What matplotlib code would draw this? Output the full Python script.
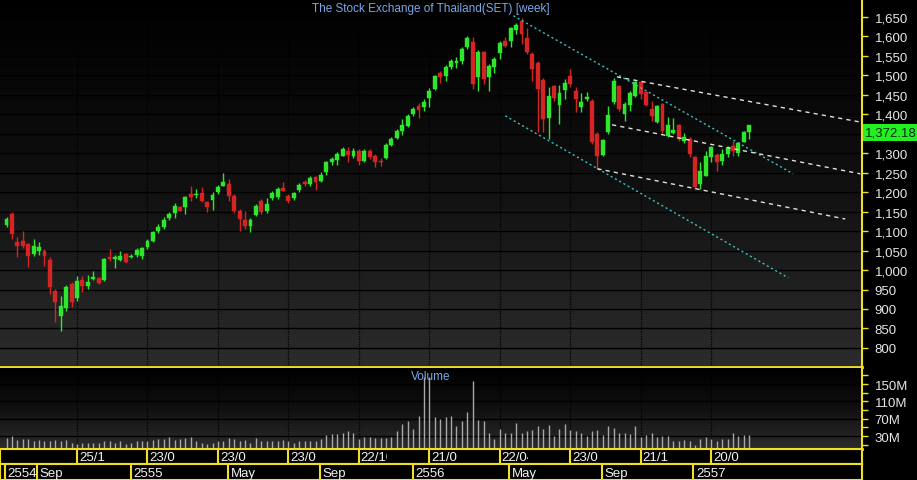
import matplotlib
matplotlib.use("Agg")
import matplotlib.pyplot as plt
import matplotlib.transforms as mtransforms
from matplotlib.colors import LinearSegmentedColormap
from matplotlib.patches import Rectangle
import numpy as np

plt.rcParams['font.family'] = ['Liberation Sans', 'DejaVu Sans']

# ------- weekly SET index data -------
opens = [1116, 1144, 1072, 1075, 1067, 1041, 1049, 1049, 1026, 946,
         882, 903, 964, 929, 975, 959, 977, 980, 975, 1034,
         1029, 1026, 1041, 1034, 1039, 1036, 1059, 1075, 1100, 1111,
         1134, 1147, 1162, 1162, 1195, 1193, 1198, 1175, 1180, 1201,
         1216, 1221, 1190, 1152, 1129, 1113, 1142, 1177, 1152, 1185,
         1188, 1211, 1190, 1185, 1206, 1226, 1221, 1239, 1229, 1252,
         1278, 1283, 1293, 1306, 1293, 1306, 1280, 1306, 1293, 1280,
         1288, 1321, 1339, 1357, 1370, 1401, 1421, 1419, 1442, 1465,
         1506, 1498, 1522, 1532, 1537, 1573, 1586, 1496, 1560, 1496,
         1522, 1558, 1588, 1588, 1617, 1640, 1596, 1555, 1532, 1488,
         1391, 1473, 1424, 1463, 1498, 1460, 1419, 1439, 1434, 1350,
         1296, 1355, 1432, 1473, 1401, 1424, 1447, 1483, 1457, 1414,
         1380, 1427, 1344, 1352, 1373, 1332, 1337, 1290, 1221, 1242,
         1290, 1296, 1280, 1298, 1319, 1301, 1329, 1355]
highs = [1137, 1149, 1085, 1100, 1070, 1080, 1072, 1054, 1034, 951,
         934, 962, 969, 985, 985, 987, 998, 982, 1031, 1054,
         1039, 1049, 1044, 1041, 1057, 1059, 1080, 1100, 1119, 1137,
         1149, 1172, 1165, 1190, 1216, 1208, 1213, 1177, 1201, 1219,
         1249, 1234, 1195, 1157, 1152, 1134, 1170, 1183, 1185, 1203,
         1213, 1226, 1195, 1201, 1224, 1231, 1242, 1242, 1252, 1280,
         1290, 1303, 1316, 1316, 1314, 1311, 1311, 1311, 1298, 1288,
         1326, 1342, 1362, 1388, 1401, 1419, 1429, 1439, 1468, 1501,
         1511, 1527, 1542, 1547, 1573, 1601, 1599, 1565, 1563, 1529,
         1547, 1588, 1599, 1624, 1635, 1647, 1622, 1560, 1537, 1493,
         1470, 1475, 1475, 1491, 1516, 1470, 1455, 1457, 1439, 1355,
         1337, 1421, 1493, 1475, 1432, 1460, 1486, 1486, 1460, 1434,
         1424, 1429, 1393, 1391, 1375, 1352, 1342, 1293, 1278, 1306,
         1319, 1301, 1311, 1319, 1332, 1329, 1357, 1373]
lows = [1111, 1080, 1034, 1057, 1008, 1036, 1039, 1010, 939, 867,
        844, 895, 905, 921, 944, 951, 975, 964, 972, 1023,
        1005, 1023, 1018, 1031, 1034, 1029, 1054, 1072, 1095, 1106,
        1129, 1134, 1152, 1144, 1177, 1185, 1175, 1149, 1154, 1195,
        1216, 1177, 1147, 1100, 1106, 1098, 1139, 1144, 1147, 1180,
        1183, 1203, 1172, 1180, 1201, 1216, 1216, 1206, 1226, 1244,
        1270, 1270, 1293, 1278, 1288, 1270, 1278, 1285, 1265, 1268,
        1285, 1319, 1337, 1347, 1368, 1396, 1391, 1409, 1419, 1463,
        1481, 1486, 1516, 1519, 1529, 1568, 1465, 1460, 1478, 1460,
        1506, 1542, 1573, 1573, 1606, 1581, 1555, 1486, 1355, 1355,
        1337, 1434, 1375, 1439, 1470, 1406, 1406, 1434, 1324, 1260,
        1293, 1350, 1427, 1409, 1383, 1409, 1445, 1439, 1421, 1383,
        1378, 1350, 1342, 1350, 1332, 1326, 1290, 1208, 1208, 1242,
        1278, 1255, 1270, 1290, 1293, 1293, 1329, 1337]
closes = [1131, 1093, 1062, 1062, 1036, 1062, 1059, 1036, 957, 918,
          908, 957, 918, 972, 959, 969, 982, 967, 1029, 1029,
          1034, 1036, 1021, 1036, 1052, 1057, 1075, 1098, 1111, 1129,
          1144, 1165, 1152, 1188, 1188, 1195, 1177, 1162, 1193, 1213,
          1226, 1190, 1152, 1131, 1113, 1129, 1165, 1149, 1170, 1198,
          1208, 1203, 1177, 1198, 1219, 1221, 1237, 1226, 1244, 1278,
          1285, 1298, 1311, 1296, 1306, 1280, 1306, 1290, 1278, 1278,
          1321, 1337, 1357, 1373, 1396, 1414, 1411, 1432, 1460, 1498,
          1496, 1522, 1537, 1537, 1568, 1596, 1478, 1560, 1491, 1524,
          1542, 1583, 1576, 1622, 1629, 1606, 1560, 1516, 1465, 1388,
          1447, 1442, 1455, 1481, 1478, 1439, 1432, 1445, 1329, 1293,
          1334, 1398, 1486, 1414, 1427, 1455, 1483, 1452, 1424, 1396,
          1421, 1357, 1373, 1360, 1337, 1342, 1298, 1213, 1255, 1293,
          1316, 1278, 1298, 1314, 1306, 1326, 1355, 1372.18]
volumes = [25, 31, 21, 23, 23, 19, 21, 19, 18, 21,
           19, 21, 15, 12, 13, 15, 15, 15, 18, 18,
           15, 18, 12, 14, 18, 18, 19, 21, 23, 23,
           27, 21, 23, 25, 28, 19, 15, 12, 13, 18,
           19, 25, 23, 19, 21, 13, 25, 18, 18, 18,
           19, 21, 19, 15, 19, 19, 18, 19, 23, 32,
           35, 35, 36, 41, 36, 23, 27, 27, 25, 25,
           25, 27, 41, 58, 64, 46, 77, 166, 166, 75,
           69, 75, 77, 52, 64, 85, 156, 67, 64, 36,
           23, 46, 38, 37, 59, 38, 42, 44, 54, 46,
           56, 31, 46, 58, 45, 42, 36, 31, 42, 44,
           33, 54, 48, 38, 37, 35, 52, 28, 32, 38,
           28, 31, 31, 19, 19, 21, 18, 10, 23, 28,
           23, 18, 23, 23, 36, 31, 32, 33]   # millions of shares

# quarter grid (every 13 weeks) and its date labels
grid_weeks = [13, 26, 39, 52, 65, 78, 91, 104, 117, 130]
grid_labels = ['25/10/54', '23/01/55', '23/04/55', '23/07/55', '22/10/55',
               '21/01/56', '22/04/56', '23/07/56', '21/10/56', '20/01/57']
# month / year cells on the bottom row
month_pos = [-0.3, 5.6, 23.0, 40.9, 57.8, 75.0, 92.7, 109.9, 126.7]
month_labels = ['2554', 'Sep', '2555', 'May', 'Sep', '2556', 'May', 'Sep', '2557']

# trend lines drawn on the chart (week index, price)
cyan_up_x, cyan_up_y = [93.5, 145.1], [1653, 1247]
cyan_lo_x, cyan_lo_y = [92.0, 144.2], [1396, 980]
white_top_x, white_top_y = [112.6, 157.5], [1496, 1380]
white_mid_x, white_mid_y = [111.7, 157.5], [1373, 1247]
white_bot_x, white_bot_y = [109.0, 154.7], [1260, 1131]

price_ticks = list(range(800, 1651, 50))
vol_ticks = list(range(10, 171, 20))
vol_labels = ['30M', '70M', '110M', '150M']

# ------- figure -------
W, H = 917, 481
fig = plt.figure(figsize=(W / 100, H / 100), dpi=100, facecolor='black')


def box(l, t, r, b):
    return [l / W, 1 - b / H, (r - l) / W, (b - t) / H]


ax = fig.add_axes(box(0, 0, 862, 368))
axv = fig.add_axes(box(0, 369, 862, 450))
axd1 = fig.add_axes(box(0, 450, 862, 465))
axd2 = fig.add_axes(box(0, 465, 862, 481))

YEL = '#f0e020'
xlim = (-1.2, 157.8)
idx = np.arange(len(closes))
o = np.array(opens, float)
c = np.array(closes, float)
up = c >= o

cmap = LinearSegmentedColormap.from_list('bg', ['#000000', '#101010', '#2c2c2c'])
grad = np.linspace(0, 1, 256).reshape(-1, 1)

for a in (ax, axv):
    a.imshow(grad, extent=[0, 1, 0, 1], transform=a.transAxes, cmap=cmap,
             aspect='auto', zorder=0, interpolation='bilinear')
    a.set_xlim(*xlim)
    a.set_xticks([])
    for w in grid_weeks:
        a.axvline(w, color='#000000', lw=0.9, ls=(0, (1, 1)), zorder=1)
    for s in ('left', 'top'):
        a.spines[s].set_visible(False)
    a.spines['right'].set_color(YEL)
    a.spines['bottom'].set_color(YEL)
    a.spines['right'].set_linewidth(1.5)
    a.spines['bottom'].set_linewidth(2)
    a.yaxis.tick_right()
    a.tick_params(axis='y', colors=YEL, labelcolor='#e6e6e6', length=4,
                  width=1, pad=5, labelsize=9.5)

# ---- price panel ----
for p in price_ticks:
    ax.axhline(p, color='#000000', lw=1, zorder=1)

cols = np.where(up, '#2ee62e', '#d42424')
ax.vlines(idx, lows, highs, colors=cols, lw=1, zorder=3)
body = np.maximum(np.abs(c - o), 1.5)
ax.bar(idx, body, bottom=np.minimum(o, c), width=0.72, color=cols,
       edgecolor=cols, lw=0.3, zorder=4)

dash_c = (0, (1.5, 2))
dash_w = (0, (3, 3))
ax.plot(cyan_up_x, cyan_up_y, color='#3fbfbf', lw=1, ls=dash_c, zorder=5)
ax.plot(cyan_lo_x, cyan_lo_y, color='#3fbfbf', lw=1, ls=dash_c, zorder=5)
for xs, ys in ((white_top_x, white_top_y), (white_mid_x, white_mid_y),
               (white_bot_x, white_bot_y)):
    ax.plot(xs, ys, color='#e0e0e0', lw=1, ls=dash_w, zorder=5)

ax.set_ylim(751, 1696)
ax.set_yticks(price_ticks)
# the tick label hidden behind the last-price box is left blank
last = closes[-1]
ax.set_yticklabels(['' if 0 < last - p < 40 else f'{p:,}' for p in price_ticks])
ax.text(0.5, 0.992, 'The Stock Exchange of Thailand(SET) [week]',
        transform=ax.transAxes, ha='center', va='top', color='#7aa8e6',
        fontsize=8.5, zorder=6)

# last-price box hangs just below the close level
trans = mtransforms.blended_transform_factory(ax.transAxes, ax.transData)
ax.text(1.004, last - 4, f'{last:,.2f}', transform=trans, ha='left',
        va='top', fontsize=9.5, color='#0a2a0a', clip_on=False, zorder=7,
        bbox=dict(boxstyle='square,pad=0.18', fc='#22f022', ec='none'))

# ---- volume panel ----
for v in (30, 70, 110, 150):
    axv.axhline(v, color='#000000', lw=1, zorder=1)
axv.vlines(idx, 0, volumes, color='#a8a8a8', lw=1, zorder=3)
axv.set_ylim(0, 187)
axv.set_yticks(vol_ticks)
axv.set_yticklabels([f'{v}M' if f'{v}M' in vol_labels else '' for v in vol_ticks])
axv.text(0.5, 0.97, 'Volume', transform=axv.transAxes, ha='center',
         va='top', color='#7aa8e6', fontsize=8.5, zorder=6)

# ---- date rows ----
for a in (axd1, axd2):
    a.set_facecolor('black')
    a.set_xlim(*xlim)
    a.set_ylim(0, 1)
    a.set_xticks([])
    a.set_yticks([])
    for s in a.spines.values():
        s.set_color(YEL)
        s.set_linewidth(1.5)

for w, lab in zip(grid_weeks, grid_labels):
    axd1.axvline(w, color=YEL, lw=1.5)
    t = axd1.text(w + 0.35, 0.45, lab, ha='left', va='center', color='#f2f2f2',
                  fontsize=9.5)
    clip = Rectangle((w, 0), 5.1, 1, transform=axd1.transData)
    t.set_clip_on(True)
    t.set_clip_path(clip)

for m, lab in zip(month_pos, month_labels):
    axd2.axvline(m, color=YEL, lw=1.5)
    axd2.text(m + 0.45, 0.42, lab, ha='left', va='center', color='#f2f2f2',
              fontsize=9.5)

fig.savefig('out.png', dpi=100, facecolor='black')
